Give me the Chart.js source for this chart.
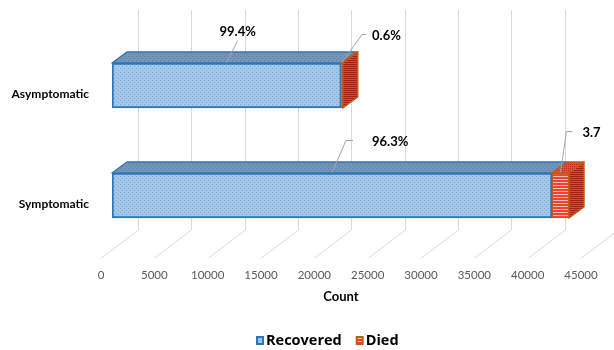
<!DOCTYPE html>
<html>
<head>
<meta charset="utf-8">
<script src="https://cdn.jsdelivr.net/npm/chart.js@4.4.1/dist/chart.umd.min.js"></script>
<style>
html,body{margin:0;padding:0;background:#fff;}
#wrap{width:614px;height:350px;position:relative;}
</style>
</head>
<body>
<div id="wrap"><canvas id="c"></canvas></div>
<script>
// ---- data ----
const categories = ['Asymptomatic', 'Symptomatic'];
const recovered = [21500, 41250];
const died = [130, 1590];
const recoveredLabels = ['99.4%', '96.3%'];
const diedLabels = ['0.6%', '3.7'];
const xTicks = [0, 5000, 10000, 15000, 20000, 25000, 30000, 35000, 40000, 45000];
const xTitle = 'Count';
const seriesNames = ['Recovered', 'Died'];

// ---- patterns ----
function pattern(w, h, draw) {
  const c = document.createElement('canvas');
  c.width = w; c.height = h;
  const g = c.getContext('2d');
  draw(g);
  return g.createPattern(c, 'repeat');
}
const recFront = pattern(4, 4, g => { g.fillStyle = '#A4C8EA'; g.fillRect(0,0,4,4); g.fillStyle = '#78A6D8'; g.fillRect(0,0,1,1); g.fillRect(2,2,1,1); });
const recTop = pattern(4, 4, g => { g.fillStyle = '#7494BA'; g.fillRect(0,0,4,4); g.fillStyle = '#5B7CA6'; g.fillRect(0,0,1,1); g.fillRect(2,2,1,1); });
const diedFront = pattern(2, 3, g => { g.fillStyle = '#FFC2B8'; g.fillRect(0,0,2,3); g.fillStyle = '#F2402E'; g.fillRect(0,0,2,2); });
const diedSide = pattern(2, 2, g => { g.fillStyle = '#D24A38'; g.fillRect(0,0,2,2); g.fillStyle = '#9E2216'; g.fillRect(0,0,2,1); });
const diedTop = pattern(2, 2, g => { g.fillStyle = '#E05040'; g.fillRect(0,0,2,2); g.fillStyle = '#B02A1C'; g.fillRect(0,0,1,1); });

const FONT = 'Lato, "Open Sans", sans-serif';
const DX = 15, DY = -11;          // bar depth
const FDX = 37, FDY = -28;        // floor depth

const deco = {
  id: 'deco',
  beforeDatasetsDraw(chart) {
    const ctx = chart.ctx, xs = chart.scales.x, ys = chart.scales.y, a = chart.chartArea;
    const yFront = a.bottom + 7.5, yBack = yFront + FDY, yTop = a.top - 20.5;
    ctx.save();
    ctx.strokeStyle = '#D9D9D9';
    ctx.lineWidth = 1;
    xTicks.forEach(v => {
      const xf = Math.round(xs.getPixelForValue(v) - 11) + 0.5;
      const xb = xf + FDX;
      ctx.beginPath();
      ctx.moveTo(xb, yTop);
      ctx.lineTo(xb, yBack);
      ctx.lineTo(xf, yFront);
      ctx.stroke();
    });
    // tick labels
    ctx.fillStyle = '#595959';
    ctx.font = '11.5px ' + FONT;
    ctx.textAlign = 'center';
    ctx.textBaseline = 'middle';
    xTicks.forEach(v => {
      const xf = xs.getPixelForValue(v) - 11;
      ctx.fillText(String(v), xf, 275);
    });
    // axis title
    ctx.fillStyle = '#000';
    ctx.font = 'bold 13px ' + FONT;
    ctx.fillText(xTitle, (xs.getPixelForValue(0) + xs.getPixelForValue(45000)) / 2 - 11, 297);
    // category labels
    ctx.textAlign = 'right';
    ctx.font = 'bold 12px ' + FONT;
    categories.forEach((c, i) => {
      ctx.fillText(c, 89, ys.getPixelForValue(i) + 9);
    });
    // legend
    ctx.textAlign = 'left';
    ctx.font = 'bold 14.5px "Open Sans", Lato, sans-serif';
    const ds = chart.data.datasets;
    let total = 0;
    const widths = ds.map(d => ctx.measureText(d.label).width);
    widths.forEach(w => total += 10 + w);
    total += 14 * (ds.length - 1);
    let lx = Math.round(327 - total / 2);
    ds.forEach((d, i) => {
      ctx.fillStyle = d.borderColor;
      ctx.fillRect(lx, 336, 8, 9);
      ctx.fillStyle = i === 0 ? recFront : diedFront;
      ctx.fillRect(lx + 2, 338, 4, 5);
      ctx.fillStyle = '#000';
      ctx.fillText(d.label, lx + 10, 341);
      lx += 10 + widths[i] + 14;
    });
    ctx.restore();
  },
  afterDatasetsDraw(chart) {
    const ctx = chart.ctx;
    const metas = chart.data.datasets.map((d, i) => chart.getDatasetMeta(i));
    const tops = [recTop, diedTop];
    ctx.save();
    ctx.lineJoin = 'round';
    const boxes = metas.map(m => m.data.map(el => {
      const p = el.getProps(['x', 'y', 'base', 'height'], true);
      return { l: Math.min(p.x, p.base), r: Math.max(p.x, p.base), t: p.y - p.height / 2, b: p.y + p.height / 2 };
    }));
    boxes.forEach((bs, di) => {
      const col = chart.data.datasets[di].borderColor;
      bs.forEach(bx => {
        ctx.beginPath();
        ctx.moveTo(bx.l, bx.t);
        ctx.lineTo(bx.l + DX, bx.t + DY);
        ctx.lineTo(bx.r + DX, bx.t + DY);
        ctx.lineTo(bx.r, bx.t);
        ctx.closePath();
        ctx.fillStyle = tops[di];
        ctx.fill();
        ctx.strokeStyle = col;
        ctx.lineWidth = 1.5;
        ctx.stroke();
        if (di === boxes.length - 1) {
          ctx.beginPath();
          ctx.moveTo(bx.r, bx.t);
          ctx.lineTo(bx.r + DX, bx.t + DY);
          ctx.lineTo(bx.r + DX, bx.b + DY);
          ctx.lineTo(bx.r, bx.b);
          ctx.closePath();
          ctx.fillStyle = diedSide;
          ctx.fill();
          ctx.stroke();
        }
      });
    });
    // data labels with leader lines
    const specs = [
      [ // recovered
        { dx: 11, dy: -22, hx: 0, tx: 0, ty: -9, align: 'center' },
        { dx: 14, dy: -32, hx: 7, tx: 26, ty: 1, align: 'left' }
      ],
      [ // died
        { dx: 20, dy: -28, hx: 4, tx: 10, ty: 1, align: 'left' },
        { dx: 6, dy: -41, hx: 6, tx: 16, ty: 1, align: 'left' }
      ]
    ];
    const labelSets = [recoveredLabels, diedLabels];
    ctx.font = 'bold 13px ' + FONT;
    ctx.textBaseline = 'middle';
    boxes.forEach((bs, di) => {
      bs.forEach((bx, i) => {
        const s = specs[di][i];
        const x0 = (bx.l + bx.r) / 2, y0 = bx.t - 0.5;
        const x1 = x0 + s.dx, y1 = y0 + s.dy;
        ctx.strokeStyle = '#A6A6A6';
        ctx.lineWidth = 1;
        ctx.beginPath();
        ctx.moveTo(x0, y0);
        ctx.lineTo(x1, y1);
        if (s.hx) ctx.lineTo(x1 + s.hx, y1);
        ctx.stroke();
        ctx.fillStyle = '#000';
        ctx.textAlign = s.align;
        ctx.fillText(labelSets[di][i], x1 + s.tx, y1 + s.ty);
      });
    });
    ctx.restore();
  }
};

new Chart(document.getElementById('c'), {
  type: 'bar',
  data: {
    labels: categories,
    datasets: [
      { label: seriesNames[0], data: recovered, backgroundColor: recFront, borderColor: '#2E75B6', borderWidth: 2, borderSkipped: false, barThickness: 45 },
      { label: seriesNames[1], data: died, backgroundColor: diedFront, borderColor: '#C55A11', borderWidth: 1.5, borderSkipped: false, barThickness: 45 }
    ]
  },
  options: {
    indexAxis: 'y',
    responsive: true,
    maintainAspectRatio: false,
    animation: false,
    devicePixelRatio: 1,
    layout: { padding: { left: 112, right: 22, top: 30.5, bottom: 99.5 } },
    scales: {
      x: { type: 'linear', min: 0, max: 45000, stacked: true, display: false },
      y: { type: 'category', stacked: true, display: false }
    },
    plugins: { legend: { display: false }, tooltip: { enabled: false } }
  },
  plugins: [deco]
});
</script>
</body>
</html>
